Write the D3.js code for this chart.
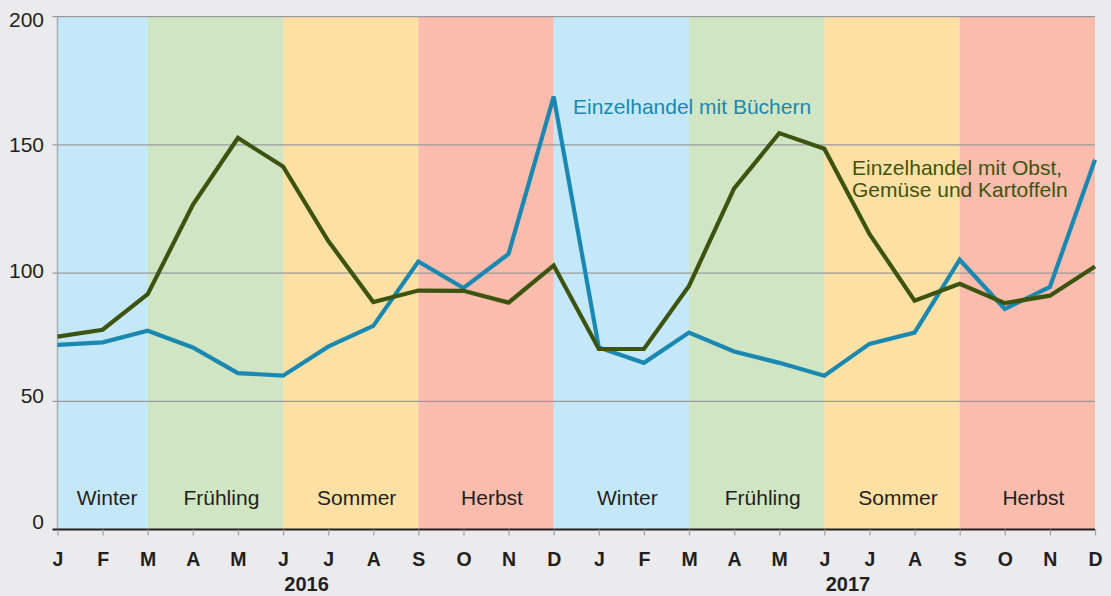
<!DOCTYPE html>
<html>
<head>
<meta charset="utf-8">
<script src="https://cdn.jsdelivr.net/npm/d3@7"></script>
<style>
  body { margin: 0; background: #ebebee; }
  svg { display: block; font-family: "Liberation Sans", Arial, sans-serif; }
</style>
</head>
<body>
<svg width="1111" height="596"></svg>
<script>
  var months = ["J","F","M","A","M","J","J","A","S","O","N","D",
                "J","F","M","A","M","J","J","A","S","O","N","D"];
  var years = ["2016", "2017"];
  var yTicks = [0, 50, 100, 150, 200];

  // Einzelhandel mit Büchern
  var books = [72, 73, 77.5, 71, 61, 60, 71.3, 79.4, 104.5, 94.2, 107.5, 168.8,
               71, 65, 76.8, 69.4, 65, 60, 72.4, 76.8, 105.2, 86, 94.6, 144.2];
  // Einzelhandel mit Obst, Gemüse und Kartoffeln
  var fruit = [75.2, 77.9, 91.8, 126.6, 152.7, 141.6, 112.6, 88.7, 93.2, 93.1, 88.5, 103,
               70.4, 70.4, 95, 133, 154.6, 148.5, 115.3, 89.2, 95.8, 88.3, 91.2, 102.6];

  // seasons: start / end month index
  var seasons = [
    { name: "Winter",   from: 0,  to: 2,  color: "#c5e8f8" },
    { name: "Frühling", from: 2,  to: 5,  color: "#cfe5c3" },
    { name: "Sommer",   from: 5,  to: 8,  color: "#fde1a4" },
    { name: "Herbst",   from: 8,  to: 11, color: "#f9bcad" },
    { name: "Winter",   from: 11, to: 14, color: "#c5e8f8" },
    { name: "Frühling", from: 14, to: 17, color: "#cfe5c3" },
    { name: "Sommer",   from: 17, to: 20, color: "#fde1a4" },
    { name: "Herbst",   from: 20, to: 23, color: "#f9bcad" }
  ];

  var svg = d3.select("svg");
  var plotLeft = 57.5, plotRight = 1095, plotTop = 16.7, plotBottom = 529.5;

  var x = d3.scaleLinear().domain([0, 23]).range([plotLeft, plotRight]);
  var y = d3.scaleLinear().domain([0, 200]).range([plotBottom, plotTop]);

  svg.append("rect").attr("width", 1111).attr("height", 596).attr("fill", "#ebebee");

  // season bands
  svg.selectAll("rect.band").data(seasons).enter()
      .append("rect")
      .attr("class", "band")
      .attr("x", function (d) { return x(d.from); })
      .attr("y", y(200))
      .attr("width", function (d) { return x(d.to) - x(d.from); })
      .attr("height", y(0) - y(200))
      .attr("fill", function (d) { return d.color; });

  svg.selectAll("text.season").data(seasons).enter()
      .append("text")
      .attr("class", "season")
      .attr("x", function (d, i) { return (x(d.from) + x(d.to)) / 2 + (i === 0 ? 4.5 : 6); })
      .attr("y", 505)
      .attr("text-anchor", "middle")
      .attr("font-size", 21)
      .attr("fill", "#231f20")
      .text(function (d) { return d.name; });

  // grid lines
  svg.selectAll("line.grid").data(yTicks.filter(function (t) { return t > 0; })).enter()
      .append("line")
      .attr("class", "grid")
      .attr("x1", plotLeft - 5).attr("x2", plotRight)
      .attr("y1", function (d) { return y(d); })
      .attr("y2", function (d) { return y(d); })
      .attr("stroke", "#9a9a9c")
      .attr("stroke-width", 1.2);

  svg.append("line")
      .attr("x1", plotLeft).attr("x2", plotLeft)
      .attr("y1", y(200)).attr("y2", y(0))
      .attr("stroke", "#a9abae")
      .attr("stroke-width", 1.5);

  svg.selectAll("text.ylab").data(yTicks).enter()
      .append("text")
      .attr("class", "ylab")
      .attr("x", 44)
      .attr("y", function (d) { return y(d) - 0.5 + d * 0.052; })
      .attr("text-anchor", "end")
      .attr("font-size", 21)
      .attr("fill", "#231f20")
      .text(function (d) { return d; });

  // x axis
  var xAxis = d3.axisBottom(x)
      .tickValues(d3.range(24))
      .tickSize(6)
      .tickFormat(function (i) { return months[i]; });

  var gx = svg.append("g")
      .attr("transform", "translate(0," + plotBottom + ")")
      .call(xAxis);
  gx.select(".domain").attr("stroke", "#231f20").attr("stroke-width", 2)
      .attr("d", "M" + (plotLeft - 5) + ",0H" + plotRight);
  gx.selectAll(".tick line").attr("stroke", "#a0a0a2").attr("stroke-width", 1.2);
  gx.selectAll(".tick text")
      .attr("y", 36.5)
      .attr("dy", 0)
      .attr("font-size", 19.5)
      .attr("font-weight", "bold")
      .attr("font-family", "Liberation Sans, Arial, sans-serif")
      .attr("fill", "#231f20");

  svg.selectAll("text.year").data(years).enter()
      .append("text")
      .attr("class", "year")
      .attr("x", function (d, i) { return (x(i * 12) + x(i * 12 + 11)) / 2 + 1; })
      .attr("y", 591)
      .attr("text-anchor", "middle")
      .attr("font-size", 20)
      .attr("font-weight", "bold")
      .attr("fill", "#231f20")
      .text(function (d) { return d; });

  // lines
  var line = d3.line()
      .x(function (d, i) { return x(i); })
      .y(function (d) { return y(d); });

  svg.append("path")
      .datum(books)
      .attr("d", line)
      .attr("fill", "none")
      .attr("stroke", "#1a88b1")
      .attr("stroke-width", 4.2)
      .attr("stroke-linejoin", "miter");

  svg.append("path")
      .datum(fruit)
      .attr("d", line)
      .attr("fill", "none")
      .attr("stroke", "#3d5411")
      .attr("stroke-width", 4.2)
      .attr("stroke-linejoin", "miter");

  // annotations
  svg.append("text")
      .attr("x", 573).attr("y", 114)
      .attr("font-size", 21)
      .attr("fill", "#1a88b1")
      .text("Einzelhandel mit Büchern");

  svg.append("text")
      .attr("x", 852).attr("y", 175)
      .attr("font-size", 21)
      .attr("fill", "#3d5411")
      .selectAll("tspan").data(["Einzelhandel mit Obst,", "Gemüse und Kartoffeln"]).enter()
      .append("tspan")
      .attr("x", 852)
      .attr("dy", function (d, i) { return i === 0 ? 0 : 22; })
      .text(function (d) { return d; });
</script>
</body>
</html>
